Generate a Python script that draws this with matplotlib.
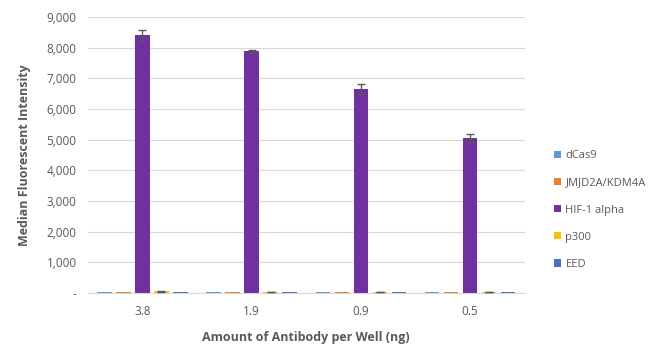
import numpy as np
import matplotlib
matplotlib.use("Agg")
from matplotlib import pyplot as plt
from matplotlib.ticker import FuncFormatter

doses = ["3.8", "1.9", "0.9", "0.5"]
series = ["dCas9", "JMJD2A/KDM4A", "HIF-1 alpha", "p300", "EED"]
colors = ["#5B9BD5", "#ED7D31", "#7030A0", "#FFC000", "#4472C4"]

dcas9 = [25, 25, 25, 25]
jmjd2a = [30, 25, 25, 25]
hif1a = [8400, 7880, 6650, 5050]
p300 = [55, 30, 30, 30]
eed = [30, 25, 25, 25]

dcas9_err = [0, 0, 0, 0]
jmjd2a_err = [0, 0, 0, 0]
hif1a_err = [170, 60, 160, 130]
p300_err = [25, 0, 0, 0]
eed_err = [0, 0, 0, 0]

values = [dcas9, jmjd2a, hif1a, p300, eed]
errors = [dcas9_err, jmjd2a_err, hif1a_err, p300_err, eed_err]

plt.rcParams["font.family"] = ["Open Sans", "DejaVu Sans"]
grey = "#595959"

fig = plt.figure(figsize=(6.6, 3.56), dpi=100)
ax = fig.add_axes([0.133, 0.177, 0.662, 0.775])

x = np.arange(len(doses))
step = 0.174
width = 0.134
for i, (name, vals, errs, c) in enumerate(zip(series, values, errors, colors)):
    pos = x + (i - 2) * step
    ax.bar(pos, vals, width, color=c, label=name, zorder=3)
    if any(errs):
        ax.errorbar(pos, vals, yerr=errs, fmt="none", ecolor="#595959",
                    elinewidth=1, capsize=3, capthick=1, zorder=4)

ax.set_ylim(0, 9000)
ax.set_xlim(-0.5, len(doses) - 0.5)
ax.set_yticks(range(0, 9001, 1000))
ax.yaxis.set_major_formatter(FuncFormatter(lambda v, p: "-" if v == 0 else f"{int(v):,}"))
ax.set_xticks(x)
ax.set_xticklabels(doses)
ax.grid(axis="y", color="#D9D9D9", linewidth=0.8, zorder=0)
for s in ["top", "right", "left"]:
    ax.spines[s].set_visible(False)
ax.spines["bottom"].set_color("#D9D9D9")
ax.tick_params(axis="both", length=0, colors=grey, labelsize=8.5, pad=8)
ax.tick_params(axis="x", pad=9)

ax.set_ylabel("Median Fluorescent Intensity", fontsize=9, fontweight="bold",
              color=grey, labelpad=11)
ax.set_xlabel("Amount of Antibody per Well (ng)", fontsize=9, fontweight="bold",
              color=grey, labelpad=9)

ax.legend(loc="center left", bbox_to_anchor=(1.045, 0.30), frameon=False,
          fontsize=8, labelcolor=grey, handlelength=0.6, handleheight=0.6,
          handletextpad=0.4, labelspacing=1.45)

fig.savefig("out.png", dpi=100)
